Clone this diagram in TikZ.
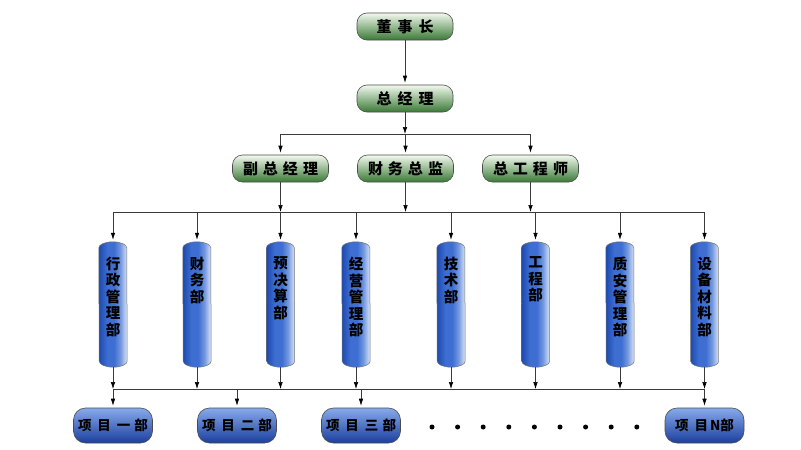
\documentclass[tikz,border=0pt]{standalone}
\usepackage{fontspec}
\newfontfamily\cjk{Noto Sans CJK SC}
\usetikzlibrary{arrows.meta}
\definecolor{gtop}{HTML}{F2F9EE}
\definecolor{gmid}{HTML}{A8D09E}
\definecolor{gbot}{HTML}{3A7A36}
\definecolor{cl}{HTML}{1C49AE}
\definecolor{cm}{HTML}{3E6ED2}
\definecolor{cmm}{HTML}{7398DF}
\definecolor{cr}{HTML}{DCE6F8}
\definecolor{ptop}{HTML}{86AAEA}
\definecolor{pbot}{HTML}{1C3E9E}
\definecolor{lin}{HTML}{3A3A3A}
\pgfdeclarehorizontalshading{cylsh}{100bp}{color(0bp)=(cl); color(25bp)=(cl); color(40bp)=(cm); color(52bp)=(cm); color(63bp)=(cmm); color(75bp)=(cr); color(100bp)=(cr)}
\tikzset{
  gbox/.style={draw=black!70, line width=0.6pt, rounded corners=10pt,
    top color=gtop, middle color=gmid, bottom color=gbot,
    minimum width=96pt, minimum height=27pt, inner sep=0pt,
    font=\cjk\bfseries\fontsize{15}{15}\selectfont},
  pbox/.style={draw=black!70, line width=0.6pt, rounded corners=12pt,
    top color=ptop, bottom color=pbot,
    minimum width=79pt, minimum height=35pt, inner sep=0pt,
    font=\cjk\bfseries\fontsize{13.5}{14}\selectfont},
  cylnode/.style={minimum width=28pt, minimum height=125pt, inner sep=0pt},
  cylfill/.style={draw=black!55, line width=0.5pt, shading=cylsh},
  depttext/.style={anchor=north, inner sep=0pt, align=center, text=black,
    font=\cjk\bfseries\fontsize{14.5}{16.5}\selectfont},
  line/.style={draw=lin, line width=0.6pt},
  arr/.style={draw=lin, line width=0.6pt, -{Latex[length=7pt,width=4.5pt,color=black]}},
  arrb/.style={arr, shorten >=2pt}
}
\newcommand\dept[3]{%
  \node[cylnode] (#1) at (#2,-304.5) {};
  \path[cylfill] ([yshift=-6pt]#1.north west)
     arc[start angle=180,end angle=0,x radius=14pt,y radius=6pt]
     -- ([yshift=6pt]#1.south east)
     arc[start angle=0,end angle=-180,x radius=14pt,y radius=6pt] -- cycle;
  \node[depttext] (#1t) at ([yshift=-15pt]#1.north) {#3};
}
\begin{document}
\begin{tikzpicture}[x=1pt,y=1pt]
\useasboundingbox[fill=white] (0,0) rectangle (801,-450);
% top boxes
\node[gbox] (dsz) at (405,-26.5) {董\hspace{6pt}事\hspace{6pt}长};
\node[gbox] (zjl) at (405,-98.5) {总\hspace{6pt}经\hspace{6pt}理};
\node[gbox] (fz) at (280.5,-168.5) {副\hspace{5pt}总\hspace{5pt}经\hspace{5pt}理};
\node[gbox] (cw) at (405.5,-168.5) {财\hspace{5pt}务\hspace{5pt}总\hspace{5pt}监};
\node[gbox] (zg) at (530.5,-168.5) {总\hspace{5pt}工\hspace{5pt}程\hspace{5pt}师};
% departments
\dept{d1}{113}{行\\政\\管\\理\\部}
\dept{d2}{197}{财\\务\\部}
\dept{d3}{280.5}{预\\决\\算\\部}
\dept{d4}{356}{经\\营\\管\\理\\部}
\dept{d5}{451}{技\\术\\部}
\dept{d6}{535.5}{工\\程\\部}
\dept{d7}{620}{质\\安\\管\\理\\部}
\dept{d8}{704.5}{设\\备\\材\\料\\部}
% projects
\node[pbox] (p1) at (113,-425.5) {项\hspace{6pt}目\hspace{6pt}一\hspace{4pt}部};
\node[pbox] (p2) at (237,-425.5) {项\hspace{6pt}目\hspace{6pt}二\hspace{4pt}部};
\node[pbox] (p3) at (361,-425.5) {项\hspace{6pt}目\hspace{6pt}三\hspace{4pt}部};
\node[pbox] (pN) at (704.5,-425.5) {项\hspace{6pt}目\hspace{2pt}N部};
% dots
\foreach \i in {0,...,8} \fill (432+25.6*\i,-427) circle (2.5pt);
% connectors
\coordinate (b1) at (405,-134);
\coordinate (b2) at (0,-212);
\coordinate (b3) at (0,-389);
\draw[arrb] (dsz.south) -- (zjl.north);
\draw[arr] (zjl.south) -- (b1);
\draw[line] (fz.north |- b1) -- (zg.north |- b1);
\foreach \n in {fz,cw,zg} {
  \draw[arrb] (\n.north |- b1) -- (\n.north);
  \draw[arr] (\n.south) -- (\n.south |- b2);
}
\draw[line] (d1 |- b2) -- (d8 |- b2);
\draw[line] (d1 |- b3) -- (d8 |- b3);
\foreach \d in {d1,d2,d3,d4,d5,d6,d7,d8} {
  \draw[arrb] (\d.north |- b2) -- (\d.north);
  \draw[arr] (\d.south) -- (\d.south |- b3);
}
\foreach \p in {p1,p2,p3,pN} \draw[arrb] (\p.north |- b3) -- (\p.north);
\end{tikzpicture}
\end{document}
